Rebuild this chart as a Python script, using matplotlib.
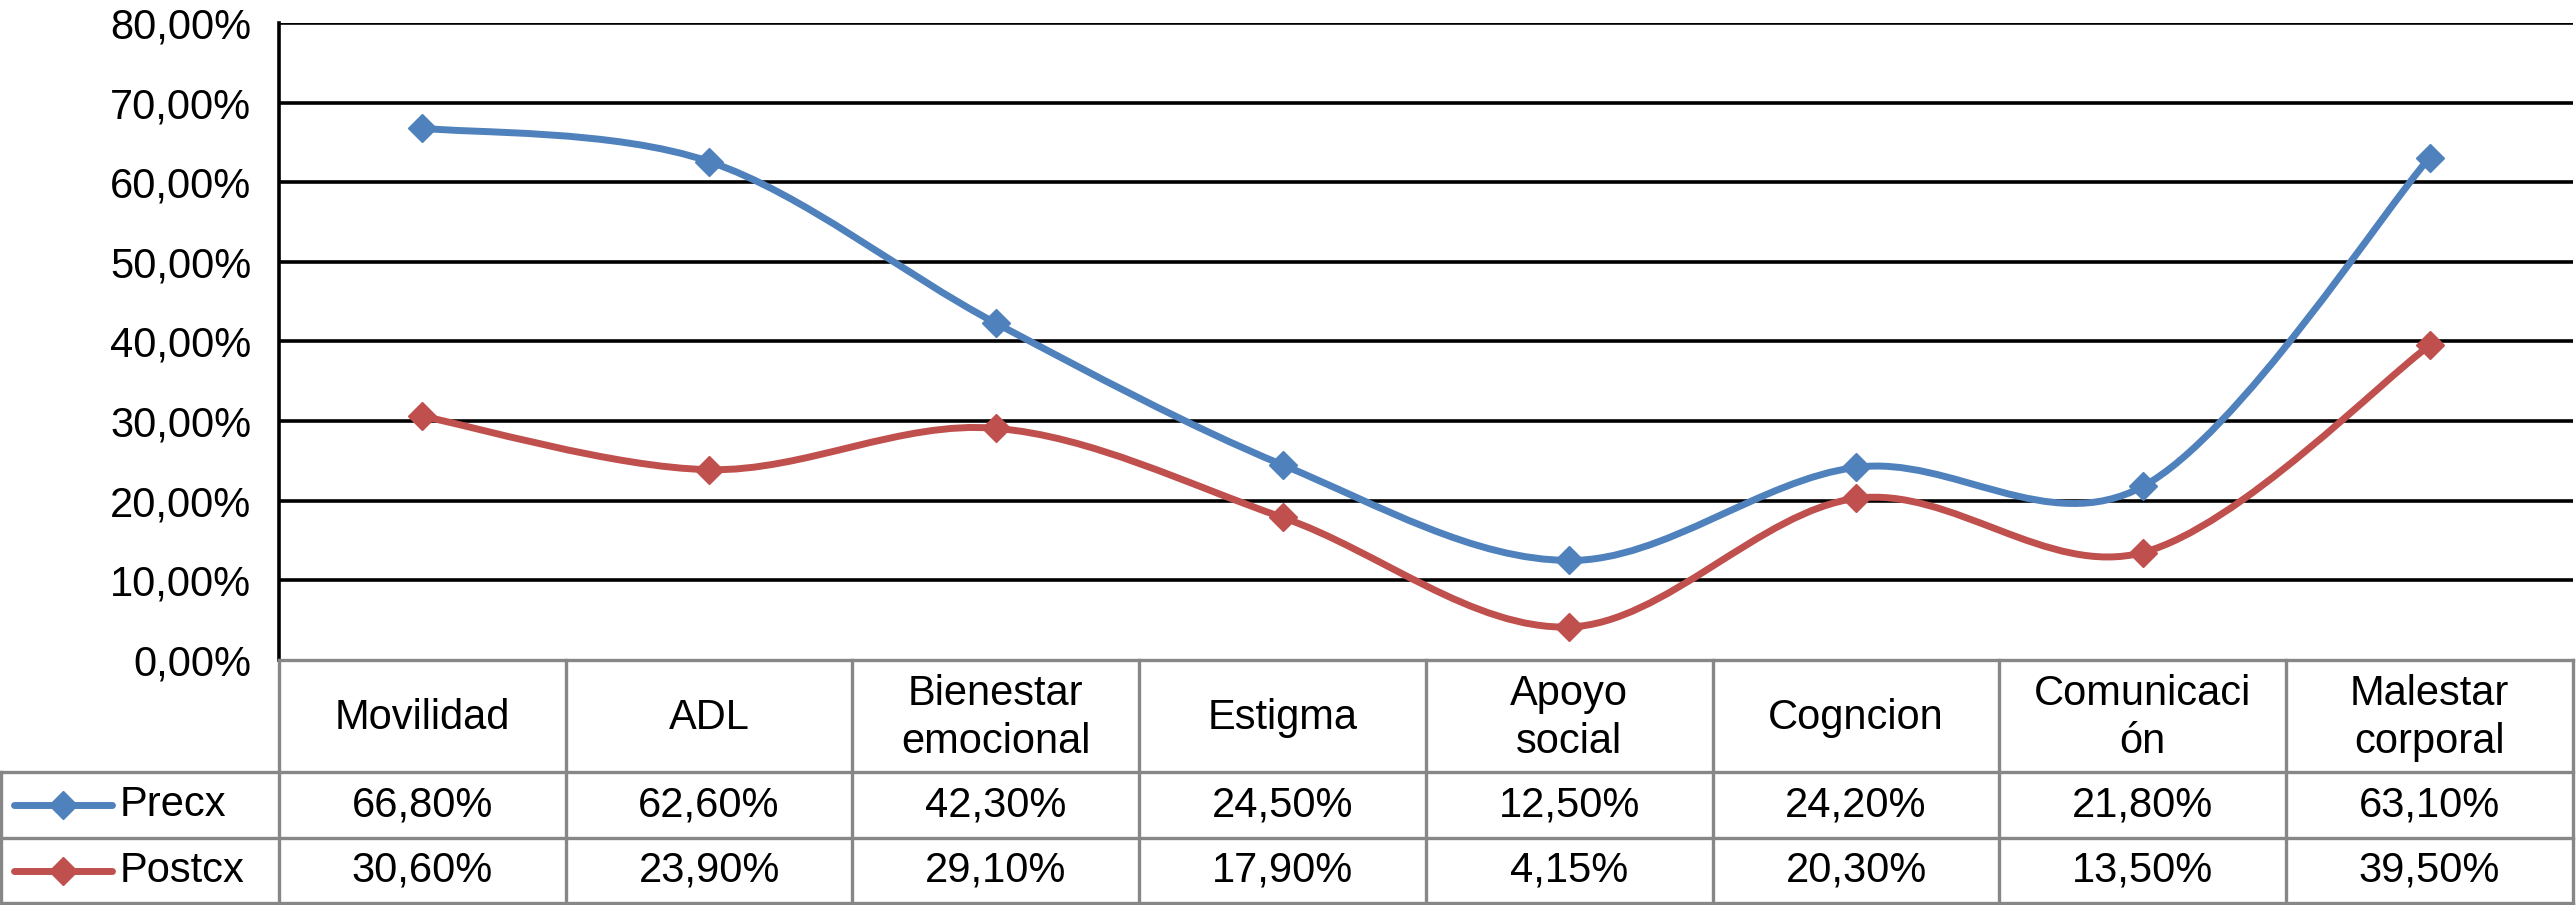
import matplotlib
matplotlib.use('Agg')
import matplotlib.pyplot as plt
from matplotlib.path import Path
from matplotlib.patches import PathPatch
from matplotlib.lines import Line2D

plt.rcParams['font.family'] = ['Liberation Sans', 'DejaVu Sans']

# === DATOS ===
categorias = ['Movilidad', 'ADL', 'Bienestar\nemocional', 'Estigma', 'Apoyo\nsocial',
              'Cogncion', 'Comunicaci\nón', 'Malestar\ncorporal']
precx = [66.8, 62.6, 42.3, 24.5, 12.5, 24.2, 21.8, 63.1]
postcx = [30.6, 23.9, 29.1, 17.9, 4.15, 20.3, 13.5, 39.5]
precx_txt = ['66,80%', '62,60%', '42,30%', '24,50%', '12,50%', '24,20%', '21,80%', '63,10%']
postcx_txt = ['30,60%', '23,90%', '29,10%', '17,90%', '4,15%', '20,30%', '13,50%', '39,50%']
series = [('Precx', precx, precx_txt, '#4F81BD'),
          ('Postcx', postcx, postcx_txt, '#C0504D')]
yticks = [0, 10, 20, 30, 40, 50, 60, 70, 80]

W, H = 2576, 905
FS = 30
LW = 5
MS = 14
fig = plt.figure(figsize=(W / 100, H / 100), dpi=100)

# limites en pixeles de la figura
x_ax0, x_ax1 = 279, 2573
y_top, y_zero = 23, 660
filas = [660, 772, 838, 903]

ax = fig.add_axes([x_ax0 / W, 1 - y_zero / H, (x_ax1 - x_ax0) / W, (y_zero - y_top) / H])
n = len(categorias)
ax.set_xlim(-0.5, n - 0.5)
ax.set_ylim(0, 80)
ax.set_yticks(yticks)
ax.set_yticklabels(['%d,00%%' % v for v in yticks], fontsize=FS)
ax.tick_params(axis='y', length=0, pad=20)
ax.set_xticks([])
for s in ['top', 'right', 'bottom']:
    ax.spines[s].set_visible(False)
ax.spines['left'].set_linewidth(2.6)
for v in yticks[1:]:
    ax.axhline(v, color='black', lw=2.6, zorder=1)


# curva suavizada estilo Excel (Bezier tipo Catmull-Rom)
def curva(xs, ys):
    pts = list(zip(xs, ys))
    verts = [pts[0]]
    codes = [Path.MOVETO]
    for i in range(len(pts) - 1):
        p0 = pts[i - 1] if i > 0 else pts[i]
        p1 = pts[i]
        p2 = pts[i + 1]
        p3 = pts[i + 2] if i + 2 < len(pts) else pts[i + 1]
        c1 = (p1[0] + (p2[0] - p0[0]) / 6, p1[1] + (p2[1] - p0[1]) / 6)
        c2 = (p2[0] - (p3[0] - p1[0]) / 6, p2[1] - (p3[1] - p1[1]) / 6)
        verts += [c1, c2, p2]
        codes += [Path.CURVE4] * 3
    return Path(verts, codes)


xs = list(range(n))
for nombre, vals, _, color in series:
    ax.add_patch(PathPatch(curva(xs, vals), facecolor='none', edgecolor=color,
                           lw=LW, zorder=3, capstyle='round', joinstyle='round'))
    ax.plot(xs, vals, linestyle='none', marker='D', markersize=MS,
            color=color, zorder=4, clip_on=False)

# === TABLA DE DATOS ===
tax = fig.add_axes([0, 0, 1, 1])
tax.set_xlim(0, W)
tax.set_ylim(H, 0)
tax.axis('off')
gris = '#878787'
colw = (x_ax1 - x_ax0) / n
# lineas horizontales
tax.plot([x_ax0, x_ax1], [filas[0], filas[0]], color=gris, lw=2.4)
for yy in filas[1:]:
    tax.plot([1, x_ax1], [yy, yy], color=gris, lw=2.4)
# lineas verticales
for i in range(n + 1):
    xx = x_ax0 + i * colw
    tax.plot([xx, xx], [filas[0], filas[3]], color=gris, lw=2.4)
tax.plot([1.5, 1.5], [filas[1], filas[3]], color=gris, lw=2.4)

for i, cat in enumerate(categorias):
    cx = x_ax0 + (i + 0.5) * colw
    tax.text(cx, (filas[0] + filas[1]) / 2 + 2, cat, ha='center', va='center',
             fontsize=FS, linespacing=1.25)

for k, (nombre, vals, txts, color) in enumerate(series):
    cy = (filas[k + 1] + filas[k + 2]) / 2
    tax.add_line(Line2D([14, 112], [cy, cy], color=color, lw=LW, solid_capstyle='round'))
    tax.plot([63], [cy], marker='D', markersize=MS, color=color)
    tax.text(120, cy, nombre, ha='left', va='center', fontsize=FS)
    for i, t in enumerate(txts):
        cx = x_ax0 + (i + 0.5) * colw
        tax.text(cx, cy, t, ha='center', va='center', fontsize=FS)

fig.savefig('out.png', dpi=100)
